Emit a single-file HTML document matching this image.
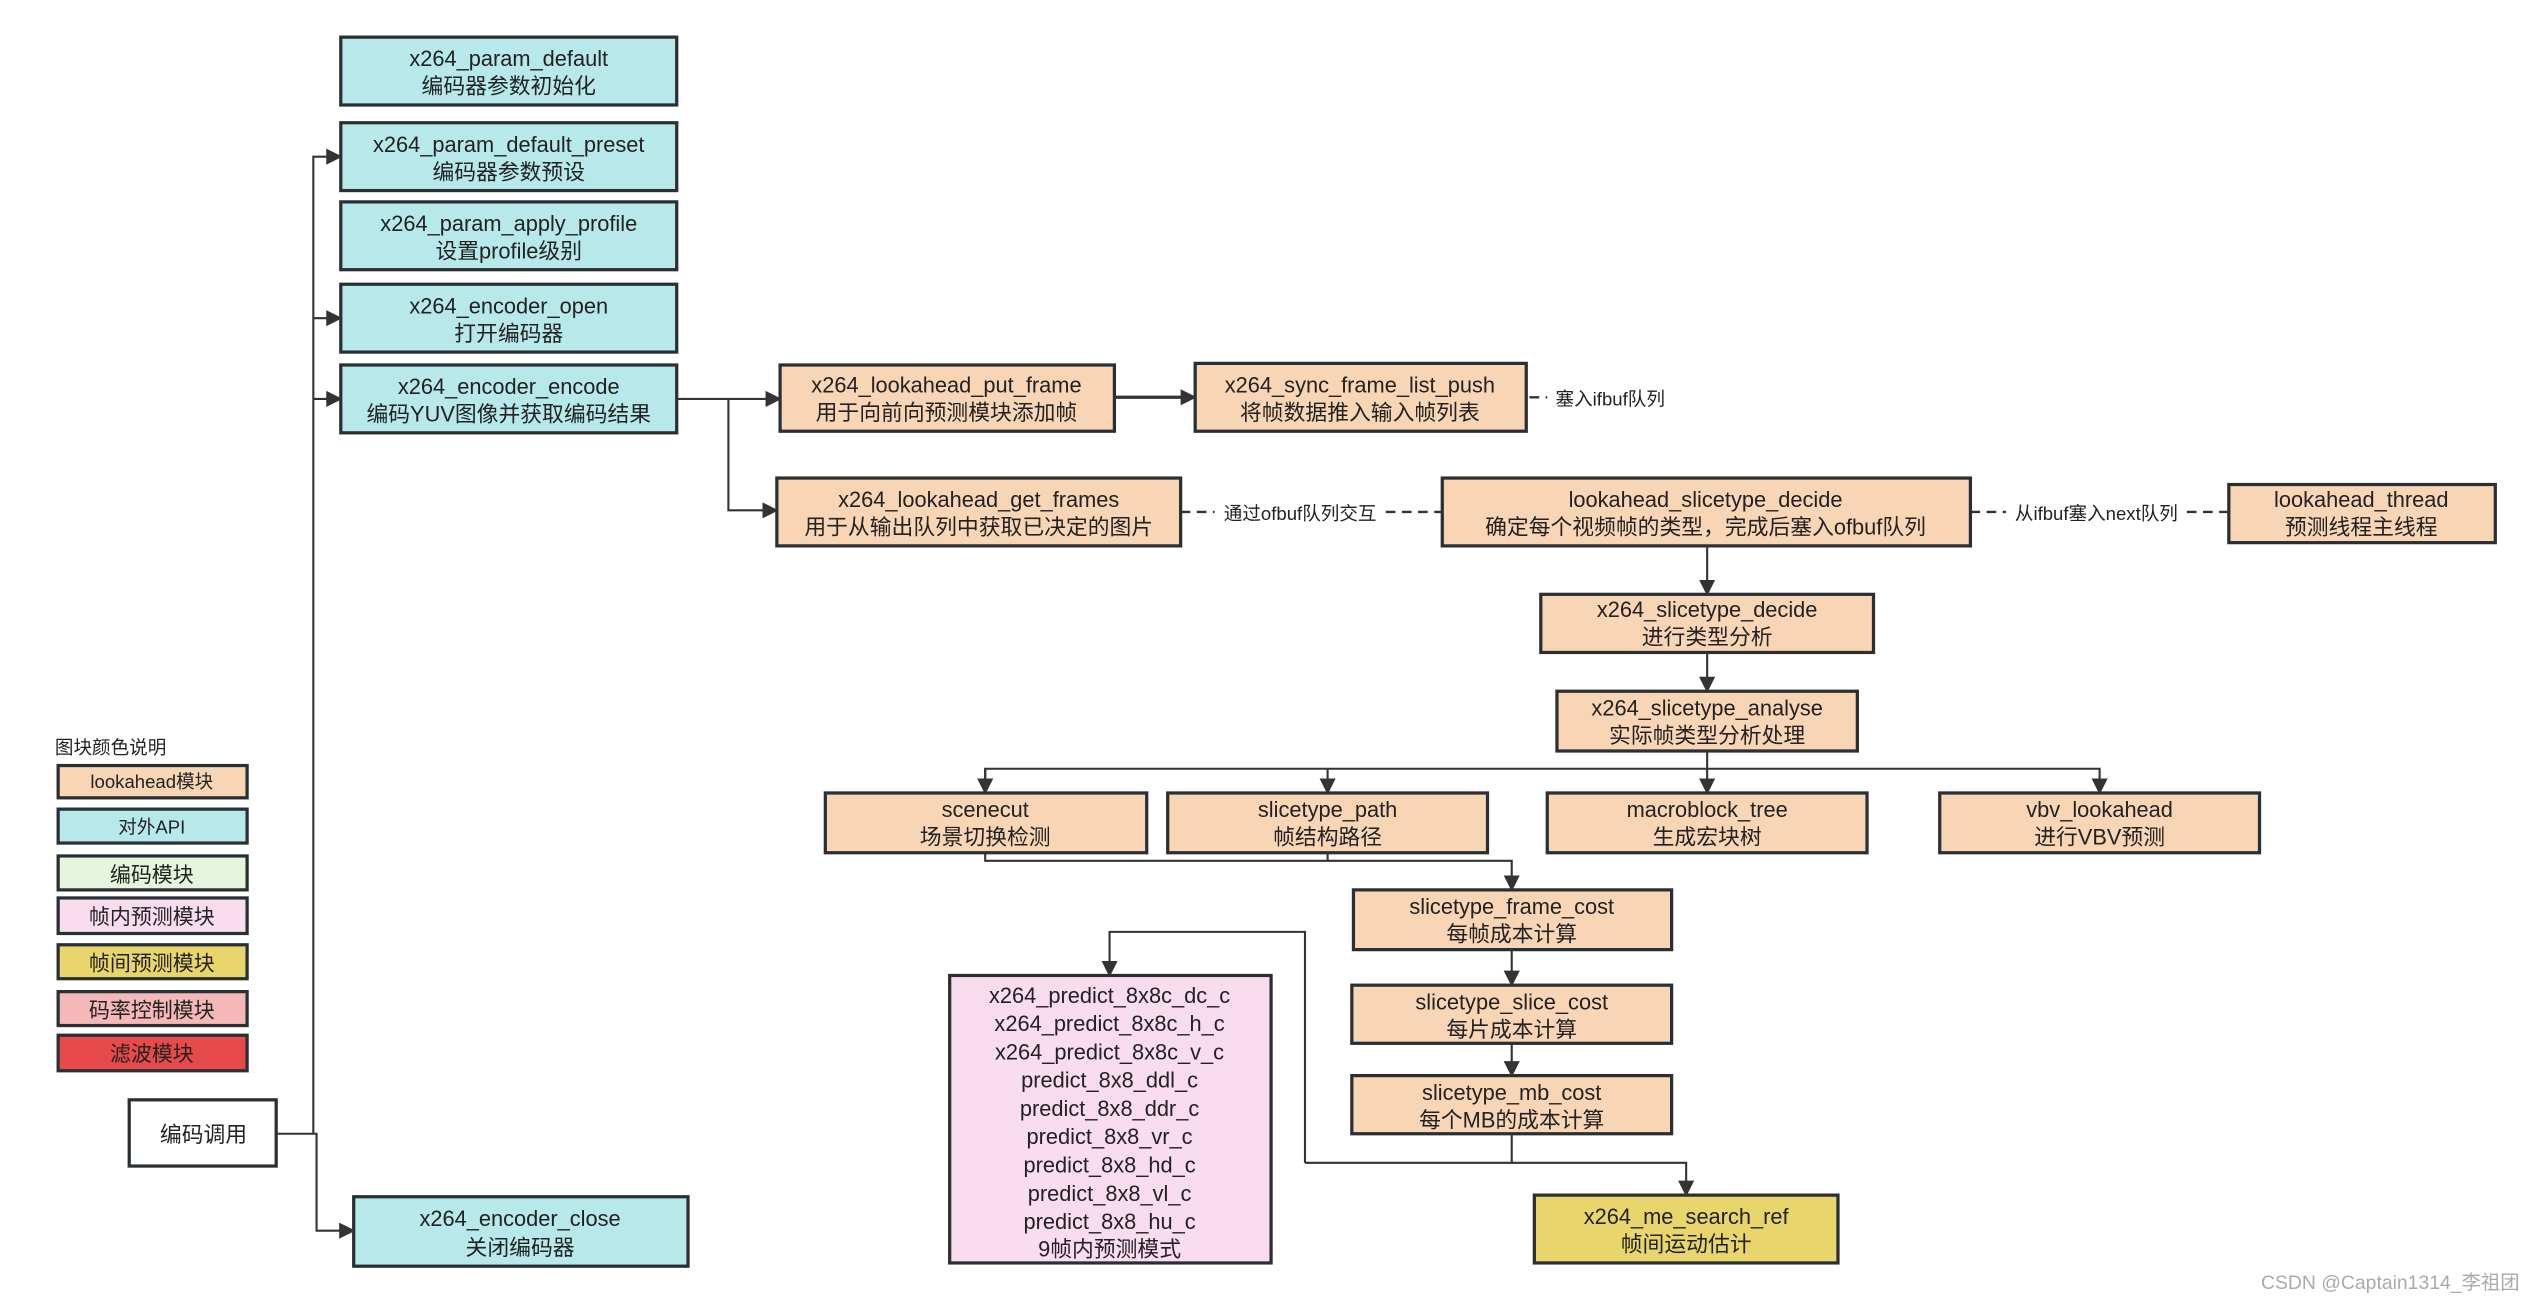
<!DOCTYPE html>
<html><head><meta charset="utf-8"><style>
html,body{margin:0;padding:0;background:#fff;}
svg{display:block;}
text{font-family:"Liberation Sans","Noto Sans CJK SC",sans-serif;fill:#222;text-anchor:middle;}
.b{stroke:#2a2f33;stroke-width:2;}
.t{fill:#b8e9ea;} .o{fill:#f8d5b5;} .p{fill:#f9dced;} .y{fill:#e8d56c;}
.l{stroke:#333;stroke-width:1.3;fill:none;}
.d{stroke:#333;stroke-width:1.5;fill:none;stroke-dasharray:6,4;}
</style></head><body>
<svg width="2526" height="1298" viewBox="0 0 1564 803.7" preserveAspectRatio="none" xmlns="http://www.w3.org/2000/svg">
<defs><marker id="a" markerWidth="10" markerHeight="10" refX="9" refY="5" orient="auto" markerUnits="userSpaceOnUse"><path d="M0,0 L10,5 L0,10 z" fill="#333"/></marker></defs>
<g font-size="13.5">
<!-- teal boxes -->
<rect class="b t" x="211" y="23" width="208" height="42"/><text x="315" y="41">x264_param_default</text><text x="315" y="58">编码器参数初始化</text>
<rect class="b t" x="211" y="76" width="208" height="42"/><text x="315" y="94">x264_param_default_preset</text><text x="315" y="111">编码器参数预设</text>
<rect class="b t" x="211" y="125" width="208" height="42"/><text x="315" y="143">x264_param_apply_profile</text><text x="315" y="160">设置profile级别</text>
<rect class="b t" x="211" y="176" width="208" height="42"/><text x="315" y="194">x264_encoder_open</text><text x="315" y="211">打开编码器</text>
<rect class="b t" x="211" y="226" width="208" height="42"/><text x="315" y="244">x264_encoder_encode</text><text x="315" y="261">编码YUV图像并获取编码结果</text>
<rect class="b t" x="219" y="741" width="207" height="43"/><text x="322" y="759">x264_encoder_close</text><text x="322" y="777">关闭编码器</text>
<!-- orange -->
<rect class="b o" x="483" y="226" width="207" height="41"/><text x="586" y="243">x264_lookahead_put_frame</text><text x="586" y="260">用于向前向预测模块添加帧</text>
<rect class="b o" x="740" y="225" width="205" height="42"/><text x="842" y="243">x264_sync_frame_list_push</text><text x="842" y="260">将帧数据推入输入帧列表</text>
<rect class="b o" x="481" y="296" width="250" height="42"/><text x="606" y="314">x264_lookahead_get_frames</text><text x="606" y="331">用于从输出队列中获取已决定的图片</text>
<rect class="b o" x="893" y="296" width="327" height="42"/><text x="1056" y="314">lookahead_slicetype_decide</text><text x="1056" y="331">确定每个视频帧的类型，完成后塞入ofbuf队列</text>
<rect class="b o" x="1380" y="300" width="165" height="36"/><text x="1462" y="314">lookahead_thread</text><text x="1462" y="331">预测线程主线程</text>
<rect class="b o" x="954" y="368" width="206" height="36"/><text x="1057" y="382">x264_slicetype_decide</text><text x="1057" y="399">进行类型分析</text>
<rect class="b o" x="964" y="428" width="186" height="37"/><text x="1057" y="443">x264_slicetype_analyse</text><text x="1057" y="460">实际帧类型分析处理</text>
<rect class="b o" x="511" y="491" width="199" height="37"/><text x="610" y="506">scenecut</text><text x="610" y="523">场景切换检测</text>
<rect class="b o" x="723" y="491" width="198" height="37"/><text x="822" y="506">slicetype_path</text><text x="822" y="523">帧结构路径</text>
<rect class="b o" x="958" y="491" width="198" height="37"/><text x="1057" y="506">macroblock_tree</text><text x="1057" y="523">生成宏块树</text>
<rect class="b o" x="1201" y="491" width="198" height="37"/><text x="1300" y="506">vbv_lookahead</text><text x="1300" y="523">进行VBV预测</text>
<rect class="b o" x="838" y="551" width="197" height="37"/><text x="936" y="566">slicetype_frame_cost</text><text x="936" y="583">每帧成本计算</text>
<rect class="b o" x="837" y="610" width="198" height="36"/><text x="936" y="625">slicetype_slice_cost</text><text x="936" y="642">每片成本计算</text>
<rect class="b o" x="837" y="666" width="198" height="36"/><text x="936" y="681">slicetype_mb_cost</text><text x="936" y="698">每个MB的成本计算</text>
<rect class="b p" x="588" y="604" width="199" height="178"/>
<text x="687" y="621">x264_predict_8x8c_dc_c</text><text x="687" y="638.5">x264_predict_8x8c_h_c</text><text x="687" y="656">x264_predict_8x8c_v_c</text><text x="687" y="673.5">predict_8x8_ddl_c</text><text x="687" y="691">predict_8x8_ddr_c</text><text x="687" y="708.5">predict_8x8_vr_c</text><text x="687" y="726">predict_8x8_hd_c</text><text x="687" y="743.5">predict_8x8_vl_c</text><text x="687" y="761">predict_8x8_hu_c</text><text x="687" y="778">9帧内预测模式</text>
<rect class="b y" x="950" y="740" width="188" height="42"/><text x="1044" y="758">x264_me_search_ref</text><text x="1044" y="775">帧间运动估计</text>
<rect class="b" fill="#fff" x="80" y="681" width="91" height="41"/><text x="126" y="707">编码调用</text>
</g>
<!-- legend -->
<g font-size="11.5">
<text x="34" y="467" style="text-anchor:start">图块颜色说明</text>
<rect class="b o" x="36" y="474" width="117" height="20"/><text x="94" y="488">lookahead模块</text>
<rect class="b t" x="36" y="501" width="117" height="21"/><text x="94" y="516">对外API</text>
</g>
<g font-size="13">
<rect class="b" fill="#e6f6dc" x="36" y="530" width="117" height="21"/><text x="94" y="546">编码模块</text>
<rect class="b p" x="36" y="556" width="117" height="22"/><text x="94" y="572">帧内预测模块</text>
<rect class="b y" x="36" y="585" width="117" height="21"/><text x="94" y="601">帧间预测模块</text>
<rect class="b" fill="#f4b8b8" x="36" y="614" width="117" height="21"/><text x="94" y="630">码率控制模块</text>
<rect class="b" fill="#e64a4a" x="36" y="641" width="117" height="22"/><text x="94" y="657">滤波模块</text>
</g>
<!-- connectors -->
<path class="l" d="M194,702 V97 H211" marker-end="url(#a)"/>
<path class="l" d="M194,197 H211" marker-end="url(#a)"/>
<path class="l" d="M194,247 H211" marker-end="url(#a)"/>
<path class="l" d="M171,702 H196 V762 H219" marker-end="url(#a)"/>
<path class="l" d="M419,247 H483" marker-end="url(#a)"/>
<path class="l" d="M451,247 V316 H481" marker-end="url(#a)"/>
<path class="l" style="stroke-width:2" d="M690,246 H740" marker-end="url(#a)"/>
<path class="d" d="M947,246 H958"/><text x="997" y="251" font-size="11.5">塞入ifbuf队列</text>
<path class="d" d="M731,317 H752"/><path class="d" d="M858,317 H893"/><text x="805" y="322" font-size="11.5">通过ofbuf队列交互</text>
<path class="d" d="M1220,317 H1242"/><path class="d" d="M1354,317 H1380"/><text x="1298" y="322" font-size="11.5">从ifbuf塞入next队列</text>
<path class="l" d="M1057,338 V368" marker-end="url(#a)"/>
<path class="l" d="M1057,404 V428" marker-end="url(#a)"/>
<path class="l" d="M1057,465 V491" marker-end="url(#a)"/>
<path class="l" d="M610,491 V476 H1300 V491" marker-end="url(#a)"/>
<path class="l" d="M610,476 V491" marker-end="url(#a)"/>
<path class="l" d="M822,476 V491" marker-end="url(#a)"/>
<path class="l" d="M610,528 V533 H936 V551" marker-end="url(#a)"/>
<path class="l" d="M822,528 V533"/>
<path class="l" d="M936,588 V610" marker-end="url(#a)"/>
<path class="l" d="M936,646 V666" marker-end="url(#a)"/>
<path class="l" d="M936,702 V720"/>
<path class="l" d="M808,720 H1044 V740" marker-end="url(#a)"/>
<path class="l" d="M808,720 V577 H687 V604" marker-end="url(#a)"/>
<text x="1480" y="798" font-size="12" style="fill:#aaa">CSDN @Captain1314_李祖团</text>
</svg>
</body></html>
